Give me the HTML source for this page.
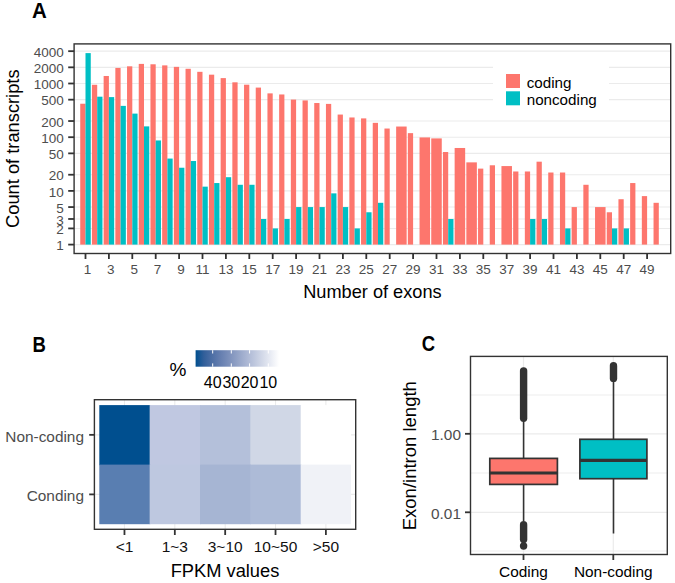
<!DOCTYPE html>
<html><head><meta charset="utf-8"><style>
html,body{margin:0;padding:0;background:#fff;}
body{width:675px;height:583px;position:relative;overflow:hidden;font-family:"Liberation Sans", sans-serif;}
</style></head><body>
<svg width="675" height="583" viewBox="0 0 675 583" style="position:absolute;left:0;top:0">
<rect x="0" y="0" width="675" height="583" fill="#fff"/>
<line x1="74.1" x2="670.7" y1="244.60" y2="244.60" stroke="#EBEBEB" stroke-width="1.1"/>
<line x1="74.1" x2="670.7" y1="228.43" y2="228.43" stroke="#EBEBEB" stroke-width="1.1"/>
<line x1="74.1" x2="670.7" y1="218.98" y2="218.98" stroke="#EBEBEB" stroke-width="1.1"/>
<line x1="74.1" x2="670.7" y1="207.07" y2="207.07" stroke="#EBEBEB" stroke-width="1.1"/>
<line x1="74.1" x2="670.7" y1="190.90" y2="190.90" stroke="#EBEBEB" stroke-width="1.1"/>
<line x1="74.1" x2="670.7" y1="174.73" y2="174.73" stroke="#EBEBEB" stroke-width="1.1"/>
<line x1="74.1" x2="670.7" y1="153.37" y2="153.37" stroke="#EBEBEB" stroke-width="1.1"/>
<line x1="74.1" x2="670.7" y1="137.20" y2="137.20" stroke="#EBEBEB" stroke-width="1.1"/>
<line x1="74.1" x2="670.7" y1="121.03" y2="121.03" stroke="#EBEBEB" stroke-width="1.1"/>
<line x1="74.1" x2="670.7" y1="99.67" y2="99.67" stroke="#EBEBEB" stroke-width="1.1"/>
<line x1="74.1" x2="670.7" y1="83.50" y2="83.50" stroke="#EBEBEB" stroke-width="1.1"/>
<line x1="74.1" x2="670.7" y1="67.33" y2="67.33" stroke="#EBEBEB" stroke-width="1.1"/>
<line x1="74.1" x2="670.7" y1="51.17" y2="51.17" stroke="#EBEBEB" stroke-width="1.1"/>
<rect x="80.24" y="103.73" width="5.26" height="140.87" fill="#FD766D"/>
<rect x="85.50" y="53.11" width="5.26" height="191.49" fill="#00BFC4"/>
<rect x="91.94" y="84.79" width="5.26" height="159.81" fill="#FD766D"/>
<rect x="97.20" y="96.69" width="5.26" height="147.91" fill="#00BFC4"/>
<rect x="103.64" y="75.99" width="5.26" height="168.61" fill="#FD766D"/>
<rect x="108.90" y="97.11" width="5.26" height="147.49" fill="#00BFC4"/>
<rect x="115.34" y="67.93" width="5.26" height="176.67" fill="#FD766D"/>
<rect x="120.60" y="105.88" width="5.26" height="138.72" fill="#00BFC4"/>
<rect x="127.04" y="66.31" width="5.26" height="178.29" fill="#FD766D"/>
<rect x="132.30" y="113.61" width="5.26" height="130.99" fill="#00BFC4"/>
<rect x="138.74" y="63.90" width="5.26" height="180.70" fill="#FD766D"/>
<rect x="144.00" y="126.38" width="5.26" height="118.22" fill="#00BFC4"/>
<rect x="150.44" y="64.28" width="5.26" height="180.32" fill="#FD766D"/>
<rect x="155.70" y="140.45" width="5.26" height="104.15" fill="#00BFC4"/>
<rect x="162.14" y="65.38" width="5.26" height="179.22" fill="#FD766D"/>
<rect x="167.40" y="158.57" width="5.26" height="86.03" fill="#00BFC4"/>
<rect x="173.84" y="66.87" width="5.26" height="177.73" fill="#FD766D"/>
<rect x="179.10" y="167.74" width="5.26" height="76.86" fill="#00BFC4"/>
<rect x="185.54" y="68.78" width="5.26" height="175.82" fill="#FD766D"/>
<rect x="190.80" y="161.03" width="5.26" height="83.57" fill="#00BFC4"/>
<rect x="197.24" y="71.82" width="5.26" height="172.78" fill="#FD766D"/>
<rect x="202.50" y="186.65" width="5.26" height="57.95" fill="#00BFC4"/>
<rect x="208.94" y="74.67" width="5.26" height="169.93" fill="#FD766D"/>
<rect x="214.20" y="183.05" width="5.26" height="61.55" fill="#00BFC4"/>
<rect x="220.64" y="78.11" width="5.26" height="166.49" fill="#FD766D"/>
<rect x="225.90" y="177.19" width="5.26" height="67.41" fill="#00BFC4"/>
<rect x="232.34" y="82.32" width="5.26" height="162.28" fill="#FD766D"/>
<rect x="237.60" y="184.78" width="5.26" height="59.82" fill="#00BFC4"/>
<rect x="244.04" y="84.70" width="5.26" height="159.90" fill="#FD766D"/>
<rect x="249.30" y="184.78" width="5.26" height="59.82" fill="#00BFC4"/>
<rect x="255.74" y="87.59" width="5.26" height="157.01" fill="#FD766D"/>
<rect x="261.00" y="218.98" width="5.26" height="25.62" fill="#00BFC4"/>
<rect x="267.44" y="93.37" width="5.26" height="151.23" fill="#FD766D"/>
<rect x="272.70" y="228.43" width="5.26" height="16.17" fill="#00BFC4"/>
<rect x="279.14" y="94.46" width="5.26" height="150.14" fill="#FD766D"/>
<rect x="284.40" y="218.98" width="5.26" height="25.62" fill="#00BFC4"/>
<rect x="290.84" y="99.57" width="5.26" height="145.03" fill="#FD766D"/>
<rect x="296.10" y="207.07" width="5.26" height="37.53" fill="#00BFC4"/>
<rect x="302.54" y="100.42" width="5.26" height="144.18" fill="#FD766D"/>
<rect x="307.80" y="207.07" width="5.26" height="37.53" fill="#00BFC4"/>
<rect x="314.24" y="103.02" width="5.26" height="141.58" fill="#FD766D"/>
<rect x="319.50" y="207.07" width="5.26" height="37.53" fill="#00BFC4"/>
<rect x="325.94" y="103.90" width="5.26" height="140.70" fill="#FD766D"/>
<rect x="331.20" y="193.36" width="5.26" height="51.24" fill="#00BFC4"/>
<rect x="337.64" y="114.56" width="5.26" height="130.04" fill="#FD766D"/>
<rect x="342.90" y="207.07" width="5.26" height="37.53" fill="#00BFC4"/>
<rect x="349.34" y="117.47" width="5.26" height="127.13" fill="#FD766D"/>
<rect x="354.60" y="228.43" width="5.26" height="16.17" fill="#00BFC4"/>
<rect x="361.04" y="118.39" width="5.26" height="126.21" fill="#FD766D"/>
<rect x="366.30" y="212.27" width="5.26" height="32.33" fill="#00BFC4"/>
<rect x="372.74" y="122.85" width="5.26" height="121.75" fill="#FD766D"/>
<rect x="378.00" y="202.81" width="5.26" height="41.79" fill="#00BFC4"/>
<rect x="384.44" y="128.53" width="5.26" height="116.07" fill="#FD766D"/>
<rect x="396.14" y="126.53" width="10.52" height="118.07" fill="#FD766D"/>
<rect x="407.84" y="133.14" width="5.26" height="111.46" fill="#FD766D"/>
<rect x="419.54" y="137.43" width="10.52" height="107.17" fill="#FD766D"/>
<rect x="431.24" y="138.40" width="10.52" height="106.20" fill="#FD766D"/>
<rect x="442.94" y="152.01" width="5.26" height="92.59" fill="#FD766D"/>
<rect x="448.20" y="218.98" width="5.26" height="25.62" fill="#00BFC4"/>
<rect x="454.64" y="147.98" width="10.52" height="96.62" fill="#FD766D"/>
<rect x="466.34" y="162.36" width="10.52" height="82.24" fill="#FD766D"/>
<rect x="478.04" y="168.62" width="5.26" height="75.98" fill="#FD766D"/>
<rect x="489.74" y="165.28" width="5.26" height="79.32" fill="#FD766D"/>
<rect x="501.44" y="166.07" width="10.52" height="78.53" fill="#FD766D"/>
<rect x="513.14" y="171.48" width="5.26" height="73.12" fill="#FD766D"/>
<rect x="524.84" y="171.48" width="5.26" height="73.12" fill="#FD766D"/>
<rect x="530.10" y="218.98" width="5.26" height="25.62" fill="#00BFC4"/>
<rect x="536.54" y="161.68" width="5.26" height="82.92" fill="#FD766D"/>
<rect x="541.80" y="218.98" width="5.26" height="25.62" fill="#00BFC4"/>
<rect x="548.24" y="172.51" width="5.26" height="72.09" fill="#FD766D"/>
<rect x="559.94" y="172.51" width="5.26" height="72.09" fill="#FD766D"/>
<rect x="565.20" y="228.43" width="5.26" height="16.17" fill="#00BFC4"/>
<rect x="571.64" y="207.07" width="5.26" height="37.53" fill="#FD766D"/>
<rect x="583.34" y="184.78" width="5.26" height="59.82" fill="#FD766D"/>
<rect x="595.04" y="207.07" width="10.52" height="37.53" fill="#FD766D"/>
<rect x="606.74" y="212.27" width="5.26" height="32.33" fill="#FD766D"/>
<rect x="612.00" y="228.43" width="5.26" height="16.17" fill="#00BFC4"/>
<rect x="618.44" y="199.22" width="5.26" height="45.38" fill="#FD766D"/>
<rect x="623.70" y="228.43" width="5.26" height="16.17" fill="#00BFC4"/>
<rect x="630.14" y="183.05" width="5.26" height="61.55" fill="#FD766D"/>
<rect x="641.84" y="196.10" width="5.26" height="48.50" fill="#FD766D"/>
<rect x="653.54" y="202.81" width="5.26" height="41.79" fill="#FD766D"/>
<rect x="493" y="58" width="116" height="56" fill="#fff"/>
<rect x="506" y="74" width="14" height="14" fill="#FD766D"/>
<rect x="506" y="91.3" width="14" height="14" fill="#00BFC4"/>
<text x="526.7" y="87.8" font-family='"Liberation Sans", sans-serif' font-size="15.2" fill="#000">coding</text>
<text x="526.7" y="105.2" font-family='"Liberation Sans", sans-serif' font-size="15.2" fill="#000">noncoding</text>
<rect x="74.1" y="43.9" width="596.6" height="209.6" fill="none" stroke="#333333" stroke-width="1.4"/>
<line x1="68.2" x2="74.1" y1="244.60" y2="244.60" stroke="#333333" stroke-width="1.8"/>
<text x="63.8" y="250.20" text-anchor="end" font-family='"Liberation Sans", sans-serif' font-size="13.5" fill="#4D4D4D">1</text>
<line x1="68.2" x2="74.1" y1="228.43" y2="228.43" stroke="#333333" stroke-width="1.8"/>
<text x="63.8" y="234.03" text-anchor="end" font-family='"Liberation Sans", sans-serif' font-size="13.5" fill="#4D4D4D">2</text>
<line x1="68.2" x2="74.1" y1="218.98" y2="218.98" stroke="#333333" stroke-width="1.8"/>
<text x="63.8" y="224.58" text-anchor="end" font-family='"Liberation Sans", sans-serif' font-size="13.5" fill="#4D4D4D">3</text>
<line x1="68.2" x2="74.1" y1="207.07" y2="207.07" stroke="#333333" stroke-width="1.8"/>
<text x="63.8" y="212.67" text-anchor="end" font-family='"Liberation Sans", sans-serif' font-size="13.5" fill="#4D4D4D">5</text>
<line x1="68.2" x2="74.1" y1="190.90" y2="190.90" stroke="#333333" stroke-width="1.8"/>
<text x="63.8" y="196.50" text-anchor="end" font-family='"Liberation Sans", sans-serif' font-size="13.5" fill="#4D4D4D">10</text>
<line x1="68.2" x2="74.1" y1="174.73" y2="174.73" stroke="#333333" stroke-width="1.8"/>
<text x="63.8" y="180.33" text-anchor="end" font-family='"Liberation Sans", sans-serif' font-size="13.5" fill="#4D4D4D">20</text>
<line x1="68.2" x2="74.1" y1="153.37" y2="153.37" stroke="#333333" stroke-width="1.8"/>
<text x="63.8" y="158.97" text-anchor="end" font-family='"Liberation Sans", sans-serif' font-size="13.5" fill="#4D4D4D">50</text>
<line x1="68.2" x2="74.1" y1="137.20" y2="137.20" stroke="#333333" stroke-width="1.8"/>
<text x="63.8" y="142.80" text-anchor="end" font-family='"Liberation Sans", sans-serif' font-size="13.5" fill="#4D4D4D">100</text>
<line x1="68.2" x2="74.1" y1="121.03" y2="121.03" stroke="#333333" stroke-width="1.8"/>
<text x="63.8" y="126.63" text-anchor="end" font-family='"Liberation Sans", sans-serif' font-size="13.5" fill="#4D4D4D">200</text>
<line x1="68.2" x2="74.1" y1="99.67" y2="99.67" stroke="#333333" stroke-width="1.8"/>
<text x="63.8" y="105.27" text-anchor="end" font-family='"Liberation Sans", sans-serif' font-size="13.5" fill="#4D4D4D">500</text>
<line x1="68.2" x2="74.1" y1="83.50" y2="83.50" stroke="#333333" stroke-width="1.8"/>
<text x="63.8" y="89.10" text-anchor="end" font-family='"Liberation Sans", sans-serif' font-size="13.5" fill="#4D4D4D">1000</text>
<line x1="68.2" x2="74.1" y1="67.33" y2="67.33" stroke="#333333" stroke-width="1.8"/>
<text x="63.8" y="72.93" text-anchor="end" font-family='"Liberation Sans", sans-serif' font-size="13.5" fill="#4D4D4D">2000</text>
<line x1="68.2" x2="74.1" y1="51.17" y2="51.17" stroke="#333333" stroke-width="1.8"/>
<text x="63.8" y="56.77" text-anchor="end" font-family='"Liberation Sans", sans-serif' font-size="13.5" fill="#4D4D4D">4000</text>
<line x1="85.50" x2="85.50" y1="253.5" y2="259" stroke="#333333" stroke-width="1.8"/>
<text x="87.40" y="273.8" text-anchor="middle" font-family='"Liberation Sans", sans-serif' font-size="13.5" fill="#4D4D4D">1</text>
<line x1="108.90" x2="108.90" y1="253.5" y2="259" stroke="#333333" stroke-width="1.8"/>
<text x="110.80" y="273.8" text-anchor="middle" font-family='"Liberation Sans", sans-serif' font-size="13.5" fill="#4D4D4D">3</text>
<line x1="132.30" x2="132.30" y1="253.5" y2="259" stroke="#333333" stroke-width="1.8"/>
<text x="134.20" y="273.8" text-anchor="middle" font-family='"Liberation Sans", sans-serif' font-size="13.5" fill="#4D4D4D">5</text>
<line x1="155.70" x2="155.70" y1="253.5" y2="259" stroke="#333333" stroke-width="1.8"/>
<text x="157.60" y="273.8" text-anchor="middle" font-family='"Liberation Sans", sans-serif' font-size="13.5" fill="#4D4D4D">7</text>
<line x1="179.10" x2="179.10" y1="253.5" y2="259" stroke="#333333" stroke-width="1.8"/>
<text x="181.00" y="273.8" text-anchor="middle" font-family='"Liberation Sans", sans-serif' font-size="13.5" fill="#4D4D4D">9</text>
<line x1="202.50" x2="202.50" y1="253.5" y2="259" stroke="#333333" stroke-width="1.8"/>
<text x="202.50" y="273.8" text-anchor="middle" font-family='"Liberation Sans", sans-serif' font-size="13.5" fill="#4D4D4D">11</text>
<line x1="225.90" x2="225.90" y1="253.5" y2="259" stroke="#333333" stroke-width="1.8"/>
<text x="225.90" y="273.8" text-anchor="middle" font-family='"Liberation Sans", sans-serif' font-size="13.5" fill="#4D4D4D">13</text>
<line x1="249.30" x2="249.30" y1="253.5" y2="259" stroke="#333333" stroke-width="1.8"/>
<text x="249.30" y="273.8" text-anchor="middle" font-family='"Liberation Sans", sans-serif' font-size="13.5" fill="#4D4D4D">15</text>
<line x1="272.70" x2="272.70" y1="253.5" y2="259" stroke="#333333" stroke-width="1.8"/>
<text x="272.70" y="273.8" text-anchor="middle" font-family='"Liberation Sans", sans-serif' font-size="13.5" fill="#4D4D4D">17</text>
<line x1="296.10" x2="296.10" y1="253.5" y2="259" stroke="#333333" stroke-width="1.8"/>
<text x="296.10" y="273.8" text-anchor="middle" font-family='"Liberation Sans", sans-serif' font-size="13.5" fill="#4D4D4D">19</text>
<line x1="319.50" x2="319.50" y1="253.5" y2="259" stroke="#333333" stroke-width="1.8"/>
<text x="319.50" y="273.8" text-anchor="middle" font-family='"Liberation Sans", sans-serif' font-size="13.5" fill="#4D4D4D">21</text>
<line x1="342.90" x2="342.90" y1="253.5" y2="259" stroke="#333333" stroke-width="1.8"/>
<text x="342.90" y="273.8" text-anchor="middle" font-family='"Liberation Sans", sans-serif' font-size="13.5" fill="#4D4D4D">23</text>
<line x1="366.30" x2="366.30" y1="253.5" y2="259" stroke="#333333" stroke-width="1.8"/>
<text x="366.30" y="273.8" text-anchor="middle" font-family='"Liberation Sans", sans-serif' font-size="13.5" fill="#4D4D4D">25</text>
<line x1="389.70" x2="389.70" y1="253.5" y2="259" stroke="#333333" stroke-width="1.8"/>
<text x="389.70" y="273.8" text-anchor="middle" font-family='"Liberation Sans", sans-serif' font-size="13.5" fill="#4D4D4D">27</text>
<line x1="413.10" x2="413.10" y1="253.5" y2="259" stroke="#333333" stroke-width="1.8"/>
<text x="413.10" y="273.8" text-anchor="middle" font-family='"Liberation Sans", sans-serif' font-size="13.5" fill="#4D4D4D">29</text>
<line x1="436.50" x2="436.50" y1="253.5" y2="259" stroke="#333333" stroke-width="1.8"/>
<text x="436.50" y="273.8" text-anchor="middle" font-family='"Liberation Sans", sans-serif' font-size="13.5" fill="#4D4D4D">31</text>
<line x1="459.90" x2="459.90" y1="253.5" y2="259" stroke="#333333" stroke-width="1.8"/>
<text x="459.90" y="273.8" text-anchor="middle" font-family='"Liberation Sans", sans-serif' font-size="13.5" fill="#4D4D4D">33</text>
<line x1="483.30" x2="483.30" y1="253.5" y2="259" stroke="#333333" stroke-width="1.8"/>
<text x="483.30" y="273.8" text-anchor="middle" font-family='"Liberation Sans", sans-serif' font-size="13.5" fill="#4D4D4D">35</text>
<line x1="506.70" x2="506.70" y1="253.5" y2="259" stroke="#333333" stroke-width="1.8"/>
<text x="506.70" y="273.8" text-anchor="middle" font-family='"Liberation Sans", sans-serif' font-size="13.5" fill="#4D4D4D">37</text>
<line x1="530.10" x2="530.10" y1="253.5" y2="259" stroke="#333333" stroke-width="1.8"/>
<text x="530.10" y="273.8" text-anchor="middle" font-family='"Liberation Sans", sans-serif' font-size="13.5" fill="#4D4D4D">39</text>
<line x1="553.50" x2="553.50" y1="253.5" y2="259" stroke="#333333" stroke-width="1.8"/>
<text x="553.50" y="273.8" text-anchor="middle" font-family='"Liberation Sans", sans-serif' font-size="13.5" fill="#4D4D4D">41</text>
<line x1="576.90" x2="576.90" y1="253.5" y2="259" stroke="#333333" stroke-width="1.8"/>
<text x="576.90" y="273.8" text-anchor="middle" font-family='"Liberation Sans", sans-serif' font-size="13.5" fill="#4D4D4D">43</text>
<line x1="600.30" x2="600.30" y1="253.5" y2="259" stroke="#333333" stroke-width="1.8"/>
<text x="600.30" y="273.8" text-anchor="middle" font-family='"Liberation Sans", sans-serif' font-size="13.5" fill="#4D4D4D">45</text>
<line x1="623.70" x2="623.70" y1="253.5" y2="259" stroke="#333333" stroke-width="1.8"/>
<text x="623.70" y="273.8" text-anchor="middle" font-family='"Liberation Sans", sans-serif' font-size="13.5" fill="#4D4D4D">47</text>
<line x1="647.10" x2="647.10" y1="253.5" y2="259" stroke="#333333" stroke-width="1.8"/>
<text x="647.10" y="273.8" text-anchor="middle" font-family='"Liberation Sans", sans-serif' font-size="13.5" fill="#4D4D4D">49</text>
<text x="372.4" y="297.7" text-anchor="middle" font-family='"Liberation Sans", sans-serif' font-size="18.2" fill="#000">Number of exons</text>
<text transform="translate(18.8,148.7) rotate(-90)" x="0" y="0" text-anchor="middle" font-family='"Liberation Sans", sans-serif' font-size="18.3" fill="#000">Count of transcripts</text>
<text transform="translate(31.9,17.5) scale(0.93,1)" font-family='"Liberation Sans", sans-serif' font-weight="bold" font-size="22" fill="#000">A</text>
<line x1="124.47" x2="124.47" y1="399.7" y2="529.3" stroke="#EBEBEB" stroke-width="1.1"/>
<line x1="174.82" x2="174.82" y1="399.7" y2="529.3" stroke="#EBEBEB" stroke-width="1.1"/>
<line x1="225.18" x2="225.18" y1="399.7" y2="529.3" stroke="#EBEBEB" stroke-width="1.1"/>
<line x1="275.52" x2="275.52" y1="399.7" y2="529.3" stroke="#EBEBEB" stroke-width="1.1"/>
<line x1="325.88" x2="325.88" y1="399.7" y2="529.3" stroke="#EBEBEB" stroke-width="1.1"/>
<line x1="94.4" x2="355.7" y1="434.85" y2="434.85" stroke="#EBEBEB" stroke-width="1.1"/>
<line x1="94.4" x2="355.7" y1="494.40" y2="494.40" stroke="#EBEBEB" stroke-width="1.1"/>
<rect x="99.30" y="405.1" width="50.95" height="60.10" fill="#004F8F"/>
<rect x="149.65" y="405.1" width="50.95" height="60.10" fill="#C0C8E1"/>
<rect x="200.00" y="405.1" width="50.95" height="60.10" fill="#B4C0DA"/>
<rect x="250.35" y="405.1" width="50.95" height="60.10" fill="#D0D7E6"/>
<rect x="300.70" y="405.1" width="50.35" height="60.10" fill="#FFFFFF"/>
<rect x="99.30" y="464.6" width="50.95" height="59.60" fill="#597EB1"/>
<rect x="149.65" y="464.6" width="50.95" height="59.60" fill="#BEC8E0"/>
<rect x="200.00" y="464.6" width="50.95" height="59.60" fill="#A6B5D3"/>
<rect x="250.35" y="464.6" width="50.95" height="59.60" fill="#ADBBD7"/>
<rect x="300.70" y="464.6" width="50.35" height="59.60" fill="#F0F2F7"/>
<rect x="94.4" y="399.7" width="261.30" height="129.60" fill="none" stroke="#333333" stroke-width="1.4"/>
<line x1="89.2" x2="94.4" y1="434.85" y2="434.85" stroke="#333333" stroke-width="1.8"/>
<text x="84" y="441.65" text-anchor="end" font-family='"Liberation Sans", sans-serif' font-size="15.4" fill="#4D4D4D">Non-coding</text>
<line x1="89.2" x2="94.4" y1="494.40" y2="494.40" stroke="#333333" stroke-width="1.8"/>
<text x="84" y="501.20" text-anchor="end" font-family='"Liberation Sans", sans-serif' font-size="15.4" fill="#4D4D4D">Conding</text>
<line x1="124.47" x2="124.47" y1="529.3" y2="535" stroke="#333333" stroke-width="1.8"/>
<text x="124.47" y="552.2" text-anchor="middle" font-family='"Liberation Sans", sans-serif' font-size="15.5" fill="#111">&lt;1</text>
<line x1="174.82" x2="174.82" y1="529.3" y2="535" stroke="#333333" stroke-width="1.8"/>
<text x="174.82" y="552.2" text-anchor="middle" font-family='"Liberation Sans", sans-serif' font-size="15.5" fill="#111">1~3</text>
<line x1="225.18" x2="225.18" y1="529.3" y2="535" stroke="#333333" stroke-width="1.8"/>
<text x="225.18" y="552.2" text-anchor="middle" font-family='"Liberation Sans", sans-serif' font-size="15.5" fill="#111">3~10</text>
<line x1="275.52" x2="275.52" y1="529.3" y2="535" stroke="#333333" stroke-width="1.8"/>
<text x="275.52" y="552.2" text-anchor="middle" font-family='"Liberation Sans", sans-serif' font-size="15.5" fill="#111">10~50</text>
<line x1="325.88" x2="325.88" y1="529.3" y2="535" stroke="#333333" stroke-width="1.8"/>
<text x="325.88" y="552.2" text-anchor="middle" font-family='"Liberation Sans", sans-serif' font-size="15.5" fill="#111">&gt;50</text>
<text x="225" y="577" text-anchor="middle" font-family='"Liberation Sans", sans-serif' font-size="18.3" fill="#000">FPKM values</text>
<text transform="translate(32.6,351.6) scale(0.86,1)" font-family='"Liberation Sans", sans-serif' font-weight="bold" font-size="21.5" fill="#000">B</text>
<defs><linearGradient id="cb" x1="0" x2="1" y1="0" y2="0"><stop offset="0.0" stop-color="#004F8F"/><stop offset="0.1" stop-color="#325F9A"/><stop offset="0.2" stop-color="#4E6FA5"/><stop offset="0.3" stop-color="#667FB0"/><stop offset="0.4" stop-color="#7C90BB"/><stop offset="0.5" stop-color="#92A2C6"/><stop offset="0.6" stop-color="#A8B4D2"/><stop offset="0.7" stop-color="#BDC6DD"/><stop offset="0.8" stop-color="#D3D9E8"/><stop offset="0.9" stop-color="#E9ECF4"/><stop offset="1.0" stop-color="#FFFFFF"/></linearGradient></defs>
<rect x="195.6" y="350.2" width="83.5" height="16.5" fill="url(#cb)"/>
<line x1="212.7" x2="212.7" y1="350.2" y2="353.5" stroke="#fff" stroke-width="1"/>
<line x1="212.7" x2="212.7" y1="363.4" y2="366.7" stroke="#fff" stroke-width="1"/>
<line x1="231.3" x2="231.3" y1="350.2" y2="353.5" stroke="#fff" stroke-width="1"/>
<line x1="231.3" x2="231.3" y1="363.4" y2="366.7" stroke="#fff" stroke-width="1"/>
<line x1="249.6" x2="249.6" y1="350.2" y2="353.5" stroke="#fff" stroke-width="1"/>
<line x1="249.6" x2="249.6" y1="363.4" y2="366.7" stroke="#fff" stroke-width="1"/>
<line x1="268.3" x2="268.3" y1="350.2" y2="353.5" stroke="#fff" stroke-width="1"/>
<line x1="268.3" x2="268.3" y1="363.4" y2="366.7" stroke="#fff" stroke-width="1"/>
<text x="212.7" y="388" text-anchor="middle" font-family='"Liberation Sans", sans-serif' font-size="16" fill="#000">40</text>
<text x="231.3" y="388" text-anchor="middle" font-family='"Liberation Sans", sans-serif' font-size="16" fill="#000">30</text>
<text x="249.6" y="388" text-anchor="middle" font-family='"Liberation Sans", sans-serif' font-size="16" fill="#000">20</text>
<text x="268.3" y="388" text-anchor="middle" font-family='"Liberation Sans", sans-serif' font-size="16" fill="#000">10</text>
<text x="169.6" y="375.9" font-family='"Liberation Sans", sans-serif' font-size="19" fill="#000">%</text>
<line x1="470.5" x2="667.3" y1="395.0" y2="395.0" stroke="#EBEBEB" stroke-width="0.9"/>
<line x1="470.5" x2="667.3" y1="473.0" y2="473.0" stroke="#EBEBEB" stroke-width="0.9"/>
<line x1="470.5" x2="667.3" y1="551.0" y2="551.0" stroke="#EBEBEB" stroke-width="0.9"/>
<line x1="470.5" x2="667.3" y1="433.8" y2="433.8" stroke="#EBEBEB" stroke-width="1.2"/>
<line x1="470.5" x2="667.3" y1="512.3" y2="512.3" stroke="#EBEBEB" stroke-width="1.2"/>
<line x1="523.5" x2="523.5" y1="356.4" y2="554.5" stroke="#EBEBEB" stroke-width="1.2"/>
<line x1="613.3" x2="613.3" y1="356.4" y2="554.5" stroke="#EBEBEB" stroke-width="1.2"/>
<line x1="523.6" x2="523.6" y1="421" y2="458.4" stroke="#333" stroke-width="1.6"/>
<line x1="523.6" x2="523.6" y1="484.4" y2="521" stroke="#333" stroke-width="1.6"/>
<line x1="523.6" x2="523.6" y1="371" y2="418.2" stroke="#333" stroke-width="7.4" stroke-linecap="round"/>
<line x1="523.6" x2="523.6" y1="524.7" y2="539.5" stroke="#333" stroke-width="7.4" stroke-linecap="round"/>
<rect x="489.8" y="458.4" width="67.60" height="26.00" fill="#FD766D" stroke="#333" stroke-width="1.7"/>
<line x1="489.8" x2="557.4" y1="473.0" y2="473.0" stroke="#333" stroke-width="3.2"/>
<circle cx="523.6" cy="546" r="3.7" fill="#333"/>
<line x1="613.5" x2="613.5" y1="382" y2="439.3" stroke="#333" stroke-width="1.6"/>
<line x1="613.5" x2="613.5" y1="478.7" y2="533.5" stroke="#333" stroke-width="1.6"/>
<line x1="613.5" x2="613.5" y1="365.7" y2="378.4" stroke="#333" stroke-width="7.4" stroke-linecap="round"/>
<rect x="579.9" y="439.3" width="67.00" height="39.40" fill="#00BFC4" stroke="#333" stroke-width="1.7"/>
<line x1="579.9" x2="646.9" y1="460.4" y2="460.4" stroke="#333" stroke-width="3.2"/>
<rect x="470.5" y="356.4" width="196.80" height="198.10" fill="none" stroke="#333333" stroke-width="1.4"/>
<line x1="465" x2="470.5" y1="433.8" y2="433.8" stroke="#333333" stroke-width="1.8"/>
<text x="461" y="440.40" text-anchor="end" font-family='"Liberation Sans", sans-serif' font-size="15.4" fill="#4D4D4D">1.00</text>
<line x1="465" x2="470.5" y1="512.3" y2="512.3" stroke="#333333" stroke-width="1.8"/>
<text x="461" y="518.90" text-anchor="end" font-family='"Liberation Sans", sans-serif' font-size="15.4" fill="#4D4D4D">0.01</text>
<line x1="523.5" x2="523.5" y1="554.5" y2="560" stroke="#333333" stroke-width="1.8"/>
<text x="523.5" y="577" text-anchor="middle" font-family='"Liberation Sans", sans-serif' font-size="15.4" fill="#000">Coding</text>
<line x1="613.3" x2="613.3" y1="554.5" y2="560" stroke="#333333" stroke-width="1.8"/>
<text x="613.3" y="577" text-anchor="middle" font-family='"Liberation Sans", sans-serif' font-size="15.4" fill="#000">Non-coding</text>
<text transform="translate(415.5,455.7) rotate(-90)" x="0" y="0" text-anchor="middle" font-family='"Liberation Sans", sans-serif' font-size="18.5" fill="#000">Exon/intron length</text>
<text transform="translate(421.8,350.9) scale(0.86,1)" font-family='"Liberation Sans", sans-serif' font-weight="bold" font-size="21.5" fill="#000">C</text>
</svg>
</body></html>
